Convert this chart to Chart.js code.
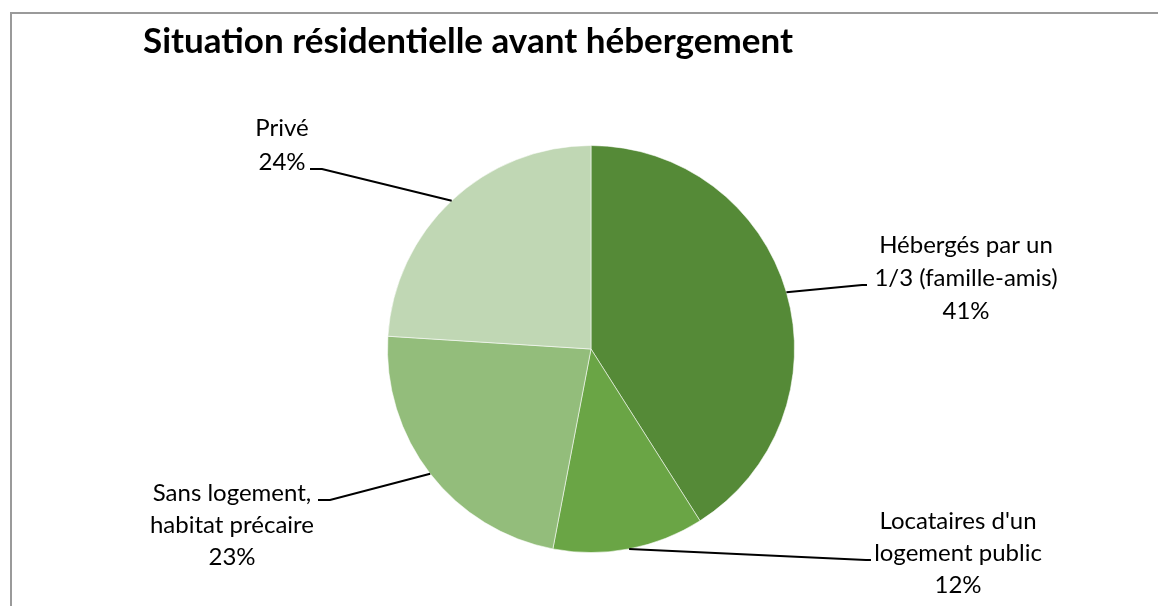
<!DOCTYPE html>
<html lang="fr">
<head>
<meta charset="UTF-8">
<title>Situation résidentielle avant hébergement</title>
<style>
    body { margin: 0; background: #ffffff; }
    #wrap { position: relative; width: 1158px; height: 606px; overflow: hidden; }
    #frame {
        position: absolute; left: 10px; top: 12px; width: 1200px; height: 700px;
        border-left: 2px solid #9a9a9a; border-top: 2px solid #9a9a9a;
    }
    canvas { position: absolute; left: 0; top: 0; }
</style>
</head>
<body>
<div id="wrap">
    <div id="frame"></div>
    <canvas id="pie" width="1158" height="606"></canvas>
</div>
<script src="https://cdn.jsdelivr.net/npm/chart.js@4.4.1/dist/chart.umd.min.js"></script>
<script>
    const chartTitle = 'Situation résidentielle avant hébergement';
    const categories = [
        ['Hébergés par un', '1/3 (famille-amis)'],
        ["Locataires d'un", 'logement public'],
        ['Sans logement,', 'habitat précaire'],
        ['Privé']
    ];
    const shares = [41, 12, 23, 24];
    const sliceColors = ['#558a37', '#6aa545', '#93bd7b', '#c0d7b4'];

    // where each label block sits, and the elbow of its leader line
    const labelLayout = [
        { x: 966, y: 245, step: 33, elbow: [[862, 285], [867, 285]] },
        { x: 958, y: 521, step: 32, elbow: [[866, 560], [871, 560]] },
        { x: 232, y: 493, step: 32, elbow: [[330, 500], [318, 500]] },
        { x: 282, y: 128, step: 34, elbow: [[322, 169], [310, 169]] }
    ];

    const textFont = 'Lato, "Open Sans", sans-serif';

    const calloutPlugin = {
        id: 'callouts',
        afterDatasetsDraw(chart) {
            const c = chart.ctx;
            const arcs = chart.getDatasetMeta(0).data;
            c.save();

            // title
            c.fillStyle = '#000000';
            c.font = 'bold 35px ' + textFont;
            c.textAlign = 'left';
            c.textBaseline = 'alphabetic';
            c.fillText(chartTitle, 143, 53);

            arcs.forEach((arc, i) => {
                const p = arc.getProps(['x', 'y', 'startAngle', 'endAngle', 'outerRadius'], true);
                const mid = (p.startAngle + p.endAngle) / 2;
                const ax = p.x + Math.cos(mid) * p.outerRadius;
                const ay = p.y + Math.sin(mid) * p.outerRadius;
                const lay = labelLayout[i];

                c.strokeStyle = '#000000';
                c.lineWidth = 2;
                c.beginPath();
                c.moveTo(ax, ay);
                c.lineTo(lay.elbow[0][0], lay.elbow[0][1]);
                c.lineTo(lay.elbow[1][0], lay.elbow[1][1]);
                c.stroke();

                const lines = categories[i].concat([shares[i] + '%']);
                c.fillStyle = '#000000';
                c.font = '24px ' + textFont;
                c.textAlign = 'center';
                c.textBaseline = 'middle';
                lines.forEach((t, k) => c.fillText(t, lay.x, lay.y + k * lay.step));
            });
            c.restore();
        }
    };

    new Chart(document.getElementById('pie'), {
        type: 'pie',
        data: {
            labels: categories,
            datasets: [{
                data: shares,
                backgroundColor: sliceColors,
                borderColor: 'rgba(255,255,255,0.55)',
                borderWidth: 1
            }]
        },
        options: {
            responsive: false,
            animation: false,
            layout: { padding: { left: 387, right: 363, top: 145, bottom: 53 } },
            plugins: {
                legend: { display: false },
                title: { display: false },
                tooltip: { enabled: false }
            }
        },
        plugins: [calloutPlugin]
    });
</script>
</body>
</html>
